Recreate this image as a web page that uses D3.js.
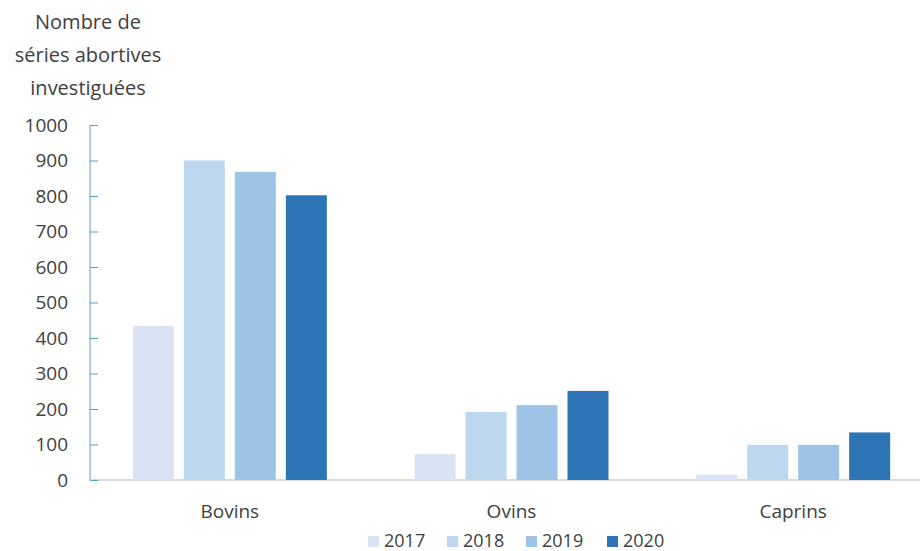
<!DOCTYPE html>
<html><head><meta charset="utf-8">
<script src="https://cdn.jsdelivr.net/npm/d3@7"></script>
<style>body{margin:0;background:#fff;} text{font-family:"Open Sans","Liberation Sans",sans-serif;fill:#404040;}</style>
</head><body>
<svg id="c" width="920" height="551"></svg>
<script>
const categories = ["Bovins","Ovins","Caprins"];
const years = ["2017","2018","2019","2020"];
const values2017 = [434, 73, 15];
const values2018 = [900, 192, 99];
const values2019 = [868, 211, 99];
const values2020 = [802, 251, 134];
const yTicks = [0,100,200,300,400,500,600,700,800,900,1000];
const colors = ["#dae3f3","#bdd7ee","#9dc3e6","#2e75b6"];
const series = [values2017, values2018, values2019, values2020];

const svg = d3.select("#c");
const x = d3.scaleBand().domain(categories).range([89, 934]).padding(0);
const y = d3.scaleLinear().domain([0,1000]).range([480,125]);

// baseline
svg.append("line").attr("x1",90).attr("x2",920).attr("y1",y(0)).attr("y2",y(0))
  .attr("stroke","#d9d9d9").attr("stroke-width",2);

// bars
years.forEach((yr,i)=>{
  svg.append("g").selectAll("rect").data(categories).join("rect")
    .attr("x", c => x(c) + x.bandwidth()/2 - 97 + i*51)
    .attr("width", 41)
    .attr("y", (c,j) => y(series[i][j]))
    .attr("height", (c,j) => y(0) - y(series[i][j]))
    .attr("fill", colors[i]);
});

// y axis
const ya = svg.append("g").attr("transform","translate(90,0)")
  .call(d3.axisRight(y).tickValues(yTicks).tickSize(8).tickFormat(""));
ya.select(".domain").attr("stroke","#5b9bd5").attr("d","M0,"+y(1000)+"V"+y(0));
ya.selectAll(".tick line").attr("stroke","#5b9bd5");
svg.append("g").selectAll("text").data(yTicks).join("text")
  .attr("x",68).attr("y",d=>y(d)).attr("dy","0.36em").attr("text-anchor","end")
  .attr("font-size",19).text(d=>d);

// category labels
svg.append("g").selectAll("text").data(categories).join("text")
  .attr("x",c=>x(c)+x.bandwidth()/2).attr("y",518).attr("text-anchor","middle")
  .attr("font-size",19).text(d=>d);

// title
const title = ["Nombre de","séries abortives","investiguées"];
svg.append("g").selectAll("text").data(title).join("text")
  .attr("x",88).attr("y",(d,i)=>29+i*33).attr("text-anchor","middle")
  .attr("font-size",20).text(d=>d);

// legend
const legX = [368, 447, 526, 607];
const lg = svg.append("g").selectAll("g").data(years).join("g")
  .attr("transform",(d,i)=>`translate(${legX[i]},541)`);
lg.append("rect").attr("x",0).attr("y",-5).attr("width",11).attr("height",11).attr("fill",(d,i)=>colors[i]);
lg.append("text").attr("x",16).attr("y",0).attr("dy","0.36em").attr("font-size",18).text(d=>d);
</script>
</body></html>
